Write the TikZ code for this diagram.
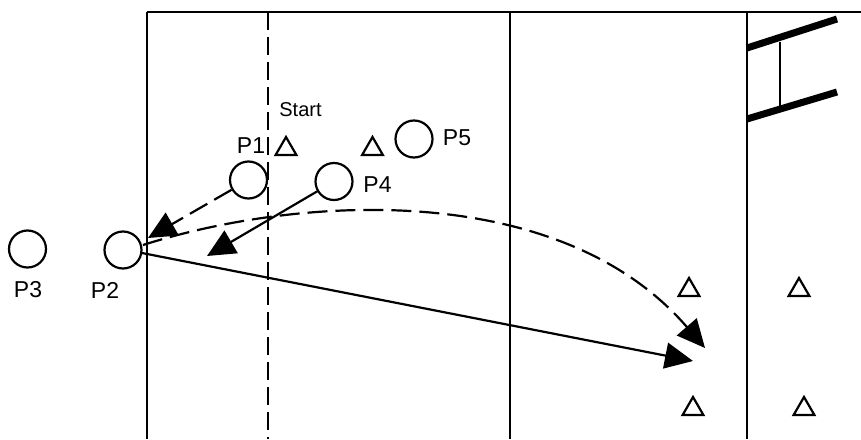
\documentclass[tikz,border=0pt]{standalone}
\usepackage{fontspec}
\setmainfont{Liberation Sans}
\usetikzlibrary{arrows.meta,shapes.geometric}
\begin{document}
\begin{tikzpicture}[x=1pt,y=-1pt,
  wall/.style={line width=2.2pt},
  lanedash/.style={line width=2.2pt,dash pattern=on 18pt off 7pt},
  player/.style={circle,draw,line width=2.2pt,minimum size=37pt,inner sep=0pt},
  cone/.style={regular polygon,regular polygon sides=3,draw,line width=2.2pt,minimum size=24pt,inner sep=0pt},
  lab/.style={inner sep=0pt,font=\fontsize{23}{26}\selectfont},
  smalllab/.style={inner sep=0pt,font=\fontsize{20}{22}\selectfont},
  pass/.style={line width=2.2pt,-{Triangle[length=28pt,width=26pt]}},
  passdash/.style={pass,dash pattern=on 20pt off 8pt},
  bar/.style={line width=7pt}]
\useasboundingbox (0,0) rectangle (861,439);
% field lines
\coordinate (tl) at (147,12);
\coordinate (tr) at (861,12);
\coordinate (bl) at (147,439);
\draw[wall] (tl) -- (tr);
\draw[wall] (tl) -- (bl);
\coordinate (d1) at (268,12);
\coordinate (d2) at (268,439);
\draw[lanedash] (d1) -- (d2);
\coordinate (m1) at (510,12);
\coordinate (m2) at (510,439);
\draw[wall] (m1) -- (m2);
\coordinate (r1) at (747,12);
\coordinate (r2) at (747,439);
\draw[wall] (r1) -- (r2);
% goal / ladder
\coordinate (g1a) at (747,48);
\coordinate (g1b) at (837,19);
\coordinate (g2a) at (747,119);
\coordinate (g2b) at (837,92);
\draw[bar] (g1a) -- (g1b);
\draw[bar] (g2a) -- (g2b);
\coordinate (g3a) at (780,42);
\coordinate (g3b) at (780,106);
\draw[line width=1.5pt] (g3a) -- (g3b);
% players
\node[player] (P3) at (27.5,249) {};
\node[player] (P2) at (123,250) {};
\node[player] (P1) at (248.5,180) {};
\node[player] (P4) at (334,181.5) {};
\node[player] (P5) at (414,139) {};
\node[lab] (L3) at (28,290) {P3};
\node[lab] (L2) at (105,290) {P2};
\node[lab] (L1) at (251,145.5) {P1};
\node[lab] (L4) at (377.5,185) {P4};
\node[lab] (L5) at (457,137.5) {P5};
\node[smalllab] (S) at (300.5,110) {Start};
% cones
\node[cone] (c1) at (286,149) {};
\node[cone] (c2) at (372.5,149) {};
\node[cone] (c3) at (689,290) {};
\node[cone] (c4) at (799,290) {};
\node[cone] (c5) at (693,409) {};
\node[cone] (c6) at (804,409) {};
% passes
\coordinate (t1) at (148,238);
\coordinate (t4) at (207,256);
\coordinate (t2) at (693,361);
\coordinate (t3) at (705,348);
\coordinate (s2) at (142,253);
\coordinate (s3) at (143,245);
\draw[passdash] (P1) -- (t1);
\draw[pass] (P4) -- (t4);
\draw[pass] (s2) -- (t2);
\draw[passdash] (s3) .. controls (300,195) and (560,180) .. (t3);
\end{tikzpicture}
\end{document}
